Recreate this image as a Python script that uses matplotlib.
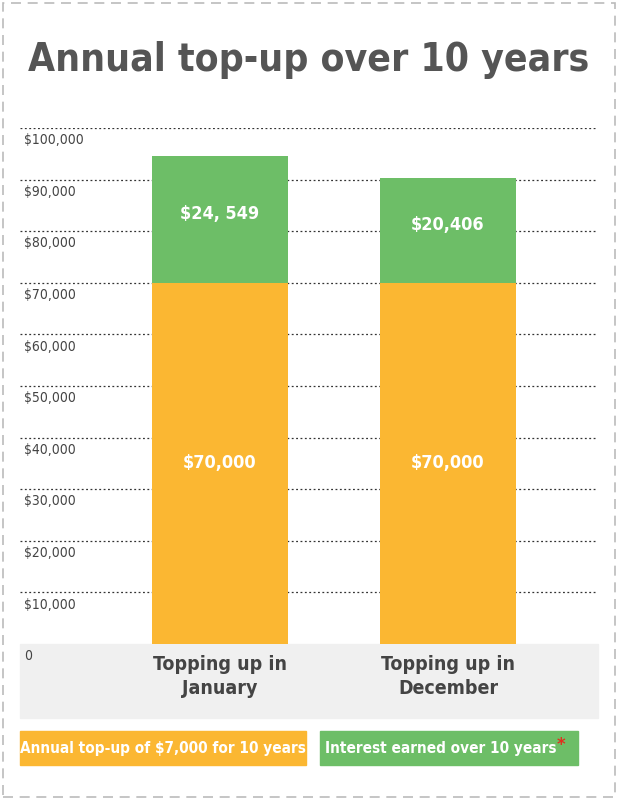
import matplotlib
matplotlib.use("Agg")
import matplotlib.pyplot as plt
from matplotlib.patches import Rectangle

FONT = "DejaVu Sans"
ST = "condensed"

categories = ["Topping up in\nJanuary", "Topping up in\nDecember"]
topup = [70000, 70000]
interest = [24549, 20406]
interest_labels = ["$24, 549", "$20,406"]
topup_labels = ["$70,000", "$70,000"]
yticks = [10000, 20000, 30000, 40000, 50000, 60000, 70000, 80000, 90000, 100000]
legend_labels = ["Annual top-up of $7,000 for 10 years", "Interest earned over 10 years"]

ORANGE = "#FBB732"
GREEN = "#6DBE67"
W, H = 618, 800
fig = plt.figure(figsize=(W/100, H/100), dpi=100)
fig.patch.set_facecolor("white")

fig.add_artist(Rectangle((3/W, 3/H), 1-6/W, 1-6/H, transform=fig.transFigure,
                         fill=False, ec="#bbbbbb", lw=1.2, ls=(0, (6, 4))))

fig.text(0.5, 1-60/H, "Annual top-up over 10 years", ha="center", va="center",
         fontsize=28, fontweight="bold", color="#555555", family=FONT, fontstretch=ST)

fig.add_artist(Rectangle((20/W, 1-718/H), 578/W, 74/H, transform=fig.transFigure,
                         color="#f0f0f0", zorder=0))

ax = fig.add_axes([20/W, 1-644/H, 578/W, (644-128)/H])
ax.set_xlim(0, 578)
ax.set_ylim(0, 100000)
ax.axis("off")
centers = [200, 428]
width = 136
for i, c in enumerate(centers):
    ax.bar(c, topup[i], width=width, color=ORANGE, zorder=2)
    ax.bar(c, interest[i], bottom=topup[i], width=width, color=GREEN, zorder=2)
    ax.text(c, topup[i]/2, topup_labels[i], ha="center", va="center", color="white",
            fontsize=13, fontweight="bold", family=FONT, fontstretch=ST, zorder=3)
    ax.text(c, topup[i] + interest[i]/2 + 1000, interest_labels[i], ha="center", va="center",
            color="white", fontsize=13, fontweight="bold", family=FONT, fontstretch=ST, zorder=3)
    ax.text(c, -2200, categories[i], ha="center", va="top", color="#444444",
            fontsize=14, fontweight="bold", family=FONT, fontstretch=ST, linespacing=1.3, clip_on=False)
for t in yticks:
    ax.axhline(t, color="#333333", lw=0.9, ls=(0, (1.5, 2)), zorder=1)
    ax.text(4, t - 1000, f"${t:,}", ha="left", va="top", fontsize=10,
            color="#444444", family=FONT, fontstretch=ST)
ax.text(4, -1000, "0", ha="left", va="top", fontsize=10, color="#444444", family=FONT, fontstretch=ST)

fig.add_artist(Rectangle((20/W, 1-765/H), 286/W, 34/H, transform=fig.transFigure, color=ORANGE))
fig.add_artist(Rectangle((320/W, 1-765/H), 258/W, 34/H, transform=fig.transFigure, color=GREEN))
fig.text(163/W, 1-748/H, legend_labels[0], ha="center", va="center", color="white",
         fontsize=11, fontweight="bold", family=FONT, fontstretch=ST)
t = fig.text(441/W, 1-748/H, legend_labels[1], ha="center", va="center", color="white",
             fontsize=11, fontweight="bold", family=FONT, fontstretch=ST)
fig.canvas.draw()
bb = t.get_window_extent()
fig.text(bb.x1/W, 1-745/H, "*", ha="left", va="center", color="#e0301e",
         fontsize=12, fontweight="bold", family=FONT)

fig.savefig("out.png", dpi=100)
